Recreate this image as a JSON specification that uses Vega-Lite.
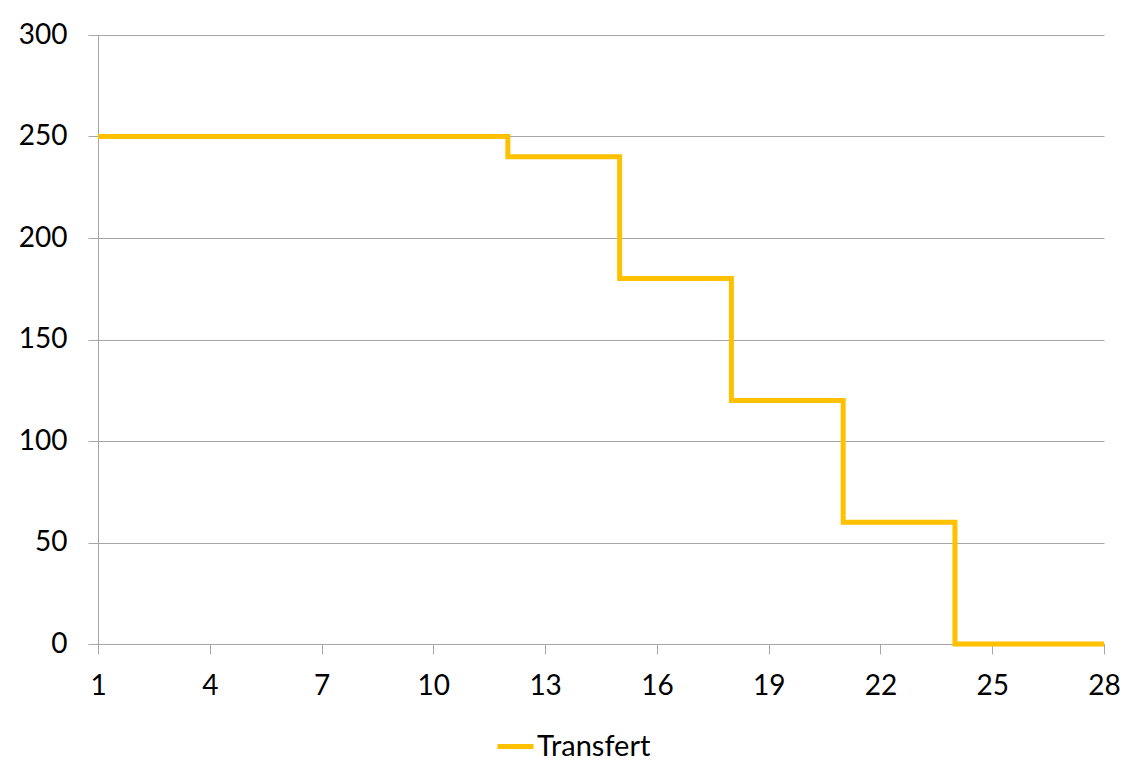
{
  "$schema": "https://vega.github.io/schema/vega-lite/v6.json",
  "width": 1006,
  "height": 609,
  "autosize": {"type": "none"},
  "padding": {"left": 98, "top": 35, "right": 28, "bottom": 135},
  "background": "white",
  "config": {
    "view": {"stroke": null},
    "font": "Lato",
    "axis": {"labelFont": "Lato", "labelFontSize": 28, "labelColor": "#000000", "domainColor": "#a6a6a6", "tickColor": "#a6a6a6", "gridColor": "#a6a6a6", "tickSize": 10, "title": null}
  },
  "data": {"values": [
    {"day": 1, "value": 250}, {"day": 2, "value": 250}, {"day": 3, "value": 250}, {"day": 4, "value": 250},
    {"day": 5, "value": 250}, {"day": 6, "value": 250}, {"day": 7, "value": 250}, {"day": 8, "value": 250},
    {"day": 9, "value": 250}, {"day": 10, "value": 250}, {"day": 11, "value": 250}, {"day": 12, "value": 240},
    {"day": 13, "value": 240}, {"day": 14, "value": 240}, {"day": 15, "value": 180}, {"day": 16, "value": 180},
    {"day": 17, "value": 180}, {"day": 18, "value": 120}, {"day": 19, "value": 120}, {"day": 20, "value": 120},
    {"day": 21, "value": 60}, {"day": 22, "value": 60}, {"day": 23, "value": 60}, {"day": 24, "value": 0},
    {"day": 25, "value": 0}, {"day": 26, "value": 0}, {"day": 27, "value": 0}, {"day": 28, "value": 0}
  ]},
  "mark": {"type": "line", "interpolate": "step-after", "strokeWidth": 5, "strokeJoin": "miter", "strokeCap": "butt"},
  "encoding": {
    "x": {"field": "day", "type": "quantitative", "scale": {"domain": [1, 28], "nice": false, "zero": false},
      "axis": {"values": [1, 4, 7, 10, 13, 16, 19, 22, 25, 28], "grid": false, "labelPadding": 18, "labelFlush": false}},
    "y": {"field": "value", "type": "quantitative", "scale": {"domain": [0, 300], "nice": false},
      "axis": {"values": [0, 50, 100, 150, 200, 250, 300], "grid": true, "labelPadding": 21}},
    "color": {"datum": "Transfert", "type": "nominal", "scale": {"range": ["#FFC000"]},
      "legend": {"title": null, "orient": "none", "legendX": 397, "legendY": 691, "symbolType": "stroke", "symbolStrokeWidth": 5, "symbolSize": 1296, "labelFontSize": 29, "labelFont": "Lato", "labelColor": "#000000", "labelOffset": 1}}
  }
}
